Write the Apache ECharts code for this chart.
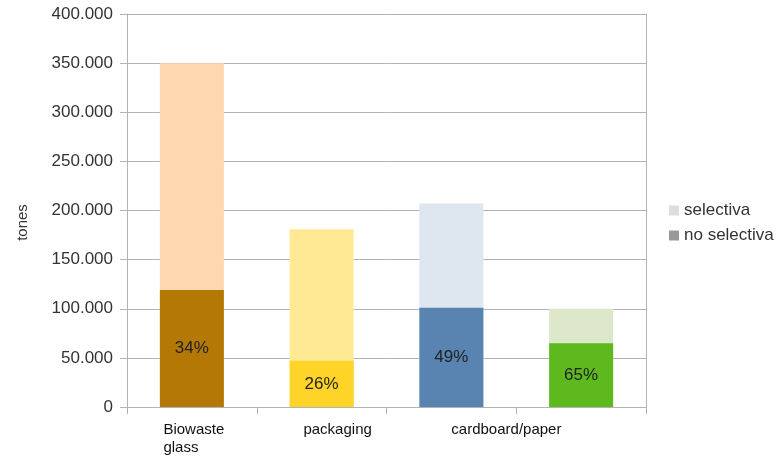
<!DOCTYPE html>
<html>
<head>
<meta charset="utf-8">
<script src="https://cdn.jsdelivr.net/npm/echarts@6/dist/echarts.min.js"></script>
<style>
html,body{margin:0;padding:0;background:#fff;}
#chart{width:782px;height:456px;}
</style>
</head>
<body>
<div id="chart"></div>
<script>
// Data
const categories = ['Biowaste glass', 'packaging', 'cardboard/paper', ''];
const selectiva = [350000, 181000, 207000, 100000];   // bar top (total)
const noSelectiva = [119000, 47000, 101000, 65000];
const pctLabels = ['34%', '26%', '49%', '65%'];
const lightColors = ['#ffd8b2', '#ffe994', '#dee6ef', '#dde8cb'];
const darkColors = ['#b47804', '#ffd428', '#5983b0', '#5eb91e'];
const seriesNames = ['selectiva', 'no selectiva'];
const yTicks = { min: 0, max: 400000, interval: 50000 };

const chart = echarts.init(document.getElementById('chart'), null, { renderer: 'canvas' });

function fmtThousands(v) {
  return String(v).replace(/\B(?=(\d{3})+(?!\d))/g, '.');
}

const textColor = '#333333';
const lineColor = '#b3b3b3';
const font = 'Liberation Sans, Arial, sans-serif';

const option = {
  animation: false,
  textStyle: { fontFamily: font },
  grid: { left: 127, right: 136, top: 14, bottom: 49, containLabel: false, outerBoundsMode: 'none' },
  legend: {
    orient: 'vertical',
    left: 664,
    top: 197,
    itemWidth: 10,
    itemHeight: 10,
    itemGap: 8,
    icon: 'rect',
    textStyle: { fontSize: 17, color: textColor, fontFamily: font },
    data: seriesNames
  },
  xAxis: {
    type: 'category',
    data: categories,
    axisLine: { show: true, lineStyle: { color: lineColor } },
    axisTick: { show: true, length: 7, alignWithLabel: false, lineStyle: { color: lineColor } },
    axisLabel: {
      margin: 14,
      interval: 0,
      fontSize: 15,
      color: '#111',
      lineHeight: 18,
      formatter: function (v, i) {
        if (i === 0) return '{bw|Biowaste}\n{bw|glass}';
        if (i === 1) return '{pk|' + v + '}';
        if (i === 2) return '{cp|' + v + '}';
        return v;
      },
      rich: {
        bw: { width: 61, align: 'left', fontSize: 15, lineHeight: 18, color: '#111', padding: [0, 0, 0, 4] },
        pk: { fontSize: 15, lineHeight: 18, color: '#111', padding: [0, 0, 0, 32] },
        cp: { fontSize: 15, lineHeight: 18, color: '#111', padding: [0, 0, 0, 110] }
      }
    },
    splitLine: { show: false }
  },
  yAxis: [{
    type: 'value',
    min: yTicks.min,
    max: yTicks.max,
    interval: yTicks.interval,
    name: 'tones',
    nameLocation: 'middle',
    nameRotate: 90,
    nameGap: 97,
    nameTextStyle: { fontSize: 15, color: textColor, fontFamily: font, padding: [0, 24, 0, 0] },
    axisLine: { show: true, lineStyle: { color: lineColor } },
    axisTick: { show: true, length: 7, lineStyle: { color: lineColor } },
    axisLabel: { margin: 14, fontSize: 17, color: textColor, formatter: fmtThousands },
    splitLine: { show: true, lineStyle: { color: lineColor, width: 1 } }
  }, {
    type: 'value',
    position: 'right',
    min: yTicks.min,
    max: yTicks.max,
    interval: yTicks.interval,
    axisLine: { show: true, lineStyle: { color: lineColor } },
    axisTick: { show: false },
    axisLabel: { show: false },
    splitLine: { show: false }
  }],
  series: [
    {
      name: seriesNames[0],
      type: 'bar',
      barWidth: 64,
      barGap: '-100%',
      itemStyle: { color: '#dddddd' },
      data: selectiva.map((v, i) => ({ value: v, itemStyle: { color: lightColors[i] } })),
      z: 2
    },
    {
      name: seriesNames[1],
      type: 'bar',
      barWidth: 64,
      barGap: '-100%',
      itemStyle: { color: '#999999' },
      data: noSelectiva.map((v, i) => ({ value: v, itemStyle: { color: darkColors[i] } })),
      label: {
        show: true,
        position: 'inside',
        fontSize: 17,
        color: '#222',
        fontFamily: font,
        formatter: p => pctLabels[p.dataIndex]
      },
      z: 3
    }
  ]
};
chart.setOption(option);
</script>
</body>
</html>
